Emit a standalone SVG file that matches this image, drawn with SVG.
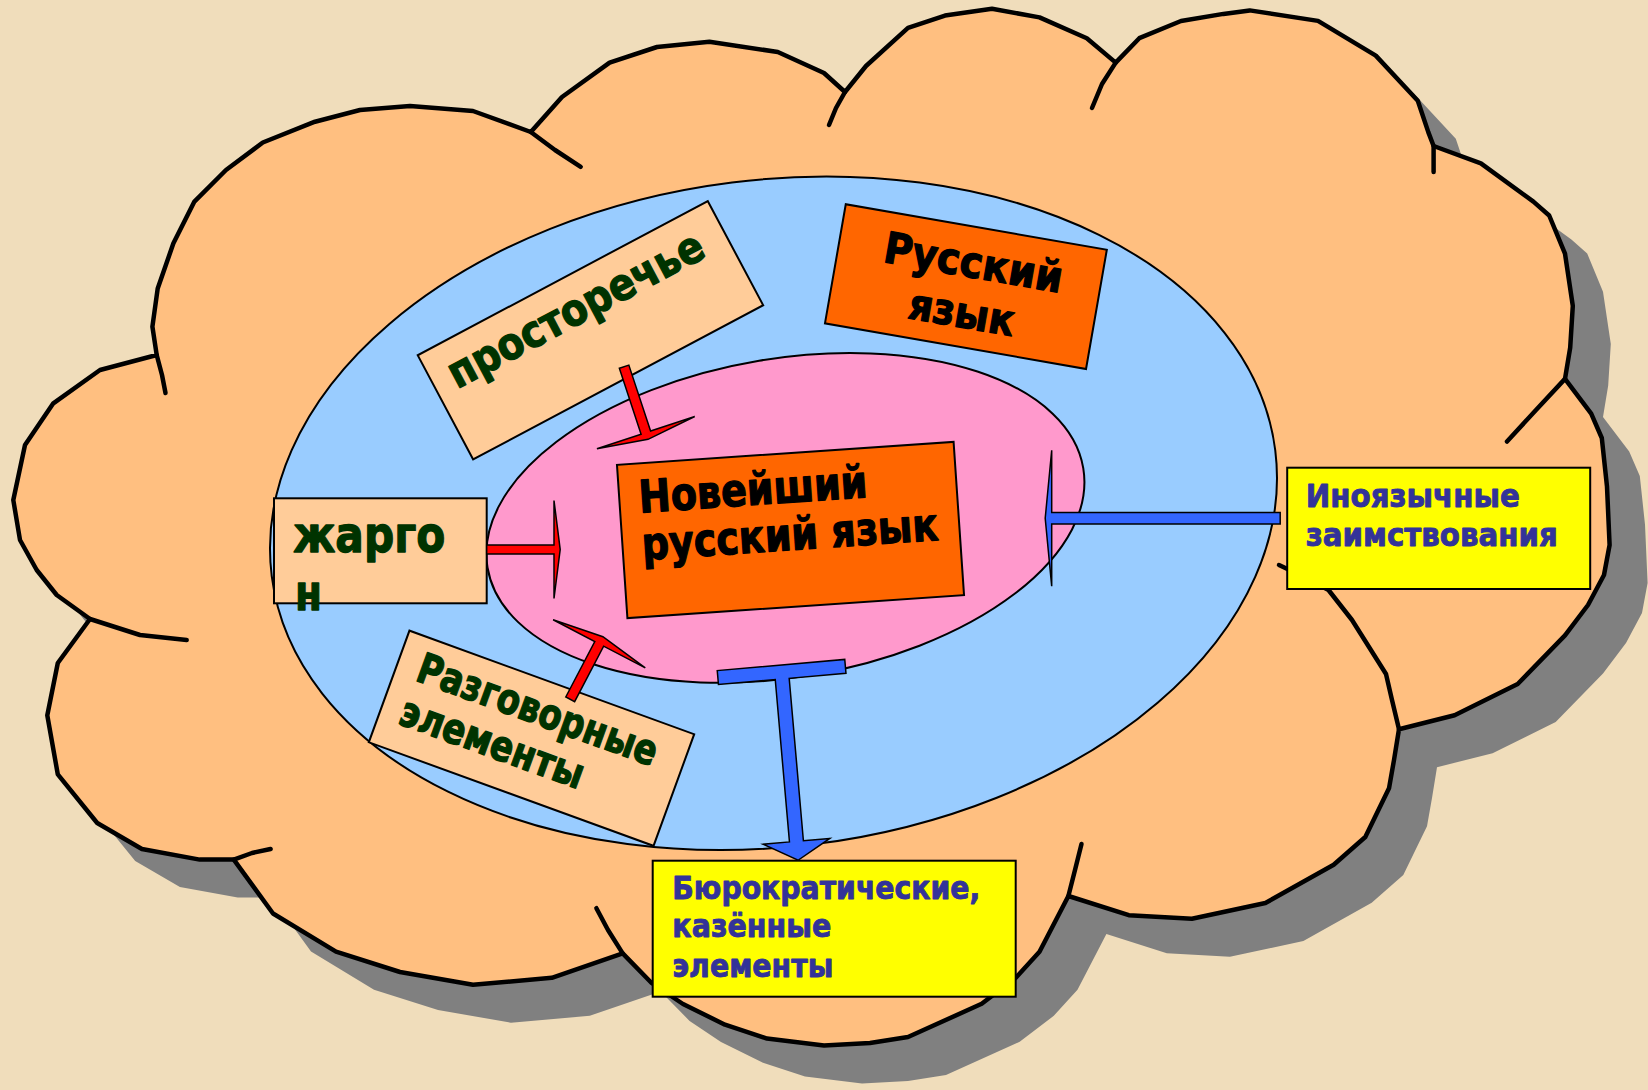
<svg xmlns="http://www.w3.org/2000/svg" xmlns:xlink="http://www.w3.org/1999/xlink" width="1648" height="1090" viewBox="0 0 1648 1090">
<style>
.cloud{stroke:#000;stroke-width:4.5;stroke-linejoin:round}
.stub{fill:none;stroke:#000;stroke-width:4.5;stroke-linecap:round;stroke-linejoin:round}
.peach{fill:#FFCC99;stroke:#000;stroke-width:2}
.orange{fill:#FF6600;stroke:#000;stroke-width:2}
.yellow{fill:#FFFF00;stroke:#000;stroke-width:2}
.t{font-family:"DejaVu Sans","Liberation Sans",sans-serif;font-weight:bold;stroke-linejoin:round}
.green{fill:#003300;stroke:#003300;stroke-width:1.3}
.blk{fill:#000;stroke:#000;stroke-width:1.3}
.navy{fill:#333399;stroke:#333399;stroke-width:0.9}
.red{fill:#FF0000;stroke:#000;stroke-width:1.5}
.blue{fill:#3366FF;stroke:#000;stroke-width:1.5}
</style>
<defs>
<path id="cloudPath" d="M156.7,355 L152.4,326.7 L157.7,288.5 L173.4,243.3 L194.4,201.6 L226,170 L262.8,142.5 L315,121.7 L360,110 L410,106 L473,111 L530.8,132 L562,97 L609.6,62.6 L657,47 L709.4,41.7 L777.8,52 L824,73 L845,92 L866,66 L908,27.8 L945,15.6 L992,8.7 L1039.5,17.4 L1086.8,38.2 L1115.7,62.6 L1139.3,38.2 L1181,21 L1223.4,13.9 L1249.7,10.4 L1318,20.9 L1375.8,55.6 L1417.8,100.8 L1428.3,132.1 L1433.6,146 L1480.9,163.4 L1533.4,201.6 L1549.2,215.5 L1565,253.7 L1572.8,305.9 L1570.2,347.6 L1565,378.9 L1591.2,413.6 L1601.8,438 L1607,486.6 L1609.6,545 L1604,575 L1588,605 L1565,635.4 L1517.7,684 L1454.6,715.3 L1399,729.2 L1394,760 L1389,788.3 L1365.3,837 L1333.7,864.8 L1265.4,903 L1191.9,918.7 L1128.8,915.2 L1068.4,896 L1039.5,951.7 L1015.8,977.8 L981.7,1003.8 L908,1037 L870,1043 L824,1045.5 L767,1038.6 L725,1024.7 L683,1004 L651.6,983 L622.7,953.4 L551.8,977.8 L473,984.7 L400,972 L336,951.7 L273,913.5 L233.8,859.6 L199.7,859.6 L141.9,849 L97.2,823 L57.8,774.4 L47.3,715.3 L57.8,663 L90,619 L56.7,595 L36.7,570 L20,540 L13.3,500 L25,445 L53.3,403.3 L100,370 Z"/>
</defs>
<rect width="1648" height="1090" fill="#F0DDBB"/>
<g id="cloud">
<use xlink:href="#cloudPath" href="#cloudPath" transform="translate(38,38)" fill="#808080"/>
<use xlink:href="#cloudPath" href="#cloudPath" class="cloud" fill="#FFBF80"/>
<path class="stub" d="M530.8,132 L555,150 L580.7,166.8"/>
<path class="stub" d="M845,92 L836,108 L829,125"/>
<path class="stub" d="M1115.7,62.6 L1102,84 L1092,108"/>
<path class="stub" d="M1433.6,146 L1433.6,172"/>
<path class="stub" d="M1565,378.9 L1536,410 L1507,441.5"/>
<path class="stub" d="M1399,729.2 L1392,700 L1386,674 L1352,620 L1328.5,590 L1300,575 L1279,565"/>
<path class="stub" d="M1068.4,896 L1075,870 L1081.5,844"/>
<path class="stub" d="M622.7,953.4 L608,930 L596.4,908.2"/>
<path class="stub" d="M233.8,859.6 L252,853 L270.6,849"/>
<path class="stub" d="M90,619 L140,635 L186.7,640"/>
<path class="stub" d="M156.7,355 L162,375 L165.5,393"/>
</g>
<g id="outer-ellipse">
<ellipse cx="773.5" cy="513.3" rx="505.7" ry="333.4" transform="rotate(-7.15 773.5 513.3)" fill="#99CCFF" stroke="#000" stroke-width="2"/>
</g>
<g id="inner-ellipse">
<ellipse cx="785.4" cy="517.9" rx="302" ry="159.4" transform="rotate(-9.5 785.4 517.9)" fill="#FF99CC" stroke="#000" stroke-width="2"/>
</g>
<g id="node-noveishiy" transform="translate(790.5,530) rotate(-3.9)">
<rect class="orange" x="-168.7" y="-76.8" width="337.4" height="153.6"/>
<text class="t blk" font-size="45" x="-149.2" y="-27.5" textLength="229" lengthAdjust="spacingAndGlyphs">Новейший</text>
<text class="t blk" font-size="45" x="-149.5" y="20" textLength="297" lengthAdjust="spacingAndGlyphs">русский язык</text>
</g>
<g id="node-russkiy" transform="translate(965.9,286.6) rotate(9.9)">
<rect class="orange" x="-132.5" y="-60.5" width="265" height="121"/>
<text class="t blk" font-size="43" x="-87" y="-10" textLength="181" lengthAdjust="spacingAndGlyphs">Русский</text>
<text class="t blk" font-size="43" x="-53" y="41" textLength="107" lengthAdjust="spacingAndGlyphs">язык</text>
</g>
<g id="node-prostorechye" transform="translate(590.45,330.25) rotate(-28)">
<rect class="peach" x="-164.25" y="-59" width="328.5" height="118"/>
<text class="t green" font-size="44" x="-145.5" y="-10.5" textLength="284" lengthAdjust="spacingAndGlyphs">просторечье</text>
</g>
<g id="node-jargon">
<rect class="peach" x="274" y="498.3" width="212.7" height="105"/>
<text class="t green" font-size="50" x="293.3" y="551.7" textLength="152" lengthAdjust="spacingAndGlyphs">жарго</text>
<text class="t green" font-size="50" x="295" y="610" textLength="27" lengthAdjust="spacingAndGlyphs">н</text>
</g>
<g id="node-razgovornye" transform="translate(531.5,738.25) rotate(20)">
<rect class="peach" x="-151.5" y="-59.4" width="303" height="118.8"/>
<text class="t green" font-size="42" x="-130.3" y="-14.5" textLength="253" lengthAdjust="spacingAndGlyphs">Разговорные</text>
<text class="t green" font-size="42" x="-131.8" y="32" textLength="193" lengthAdjust="spacingAndGlyphs">элементы</text>
</g>
<g id="node-inoyazychnye">
<rect class="yellow" x="1287.2" y="467.7" width="303" height="121.3"/>
<text class="t navy" font-size="32" x="1305.8" y="507.3" textLength="214" lengthAdjust="spacingAndGlyphs">Иноязычные</text>
<text class="t navy" font-size="32" x="1305.8" y="545.5" textLength="252" lengthAdjust="spacingAndGlyphs">заимствования</text>
</g>
<g id="node-byurokraticheskie">
<rect class="yellow" x="652.7" y="860.7" width="363" height="136"/>
<text class="t navy" font-size="32" x="672.3" y="899.3" textLength="308" lengthAdjust="spacingAndGlyphs">Бюрократические,</text>
<text class="t navy" font-size="32" x="672.3" y="937" textLength="159" lengthAdjust="spacingAndGlyphs">казённые</text>
<text class="t navy" font-size="32" x="672.3" y="976.7" textLength="161" lengthAdjust="spacingAndGlyphs">элементы</text>
</g>
<g id="connectors">
<polygon class="red" transform="translate(624.1,366.7) rotate(71.75)" points="0,-5 69.4,-5 69.4,-51.5 76.5,0 69.4,51.5 69.4,5 0,5"/>
<polygon class="red" transform="translate(486.7,549.5)" points="0,-4.5 67.3,-4.5 67.3,-49 73.5,0 67.3,49 67.3,4.5 0,4.5"/>
<polygon class="red" transform="translate(570.2,699.3) rotate(-62.4)" points="0,-5 62.6,-5 62.6,-52 70.6,0 62.6,52 62.6,5 0,5"/>
<polygon class="blue" transform="translate(1280.2,518.3) rotate(180)" points="0,-5.7 228.5,-5.7 228.5,-68 235,0 228.5,68 228.5,5.7 0,5.7"/>
<polygon class="blue" transform="translate(781,665) rotate(85)" points="0,-64 14,-64 14,-7 177,-7 177,-33.5 196,0 177,33.5 177,7 14,7 14,64 0,64"/>
</g>
</svg>
